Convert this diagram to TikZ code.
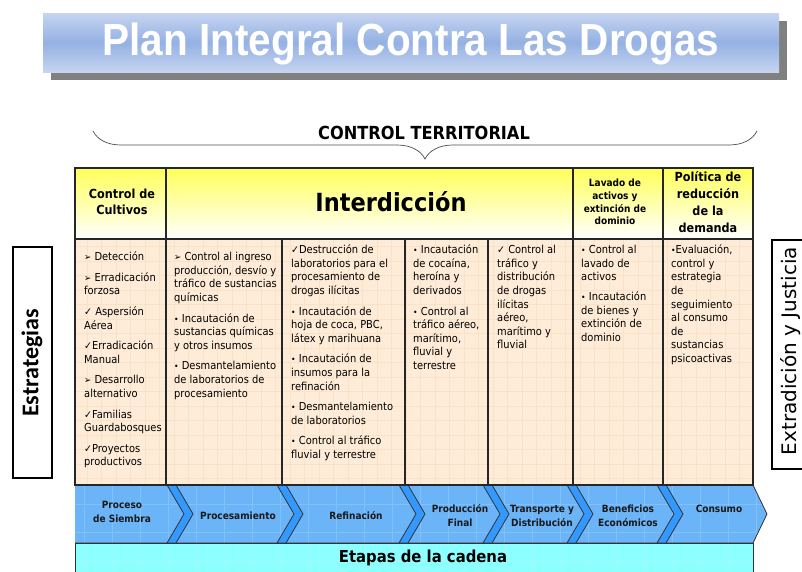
\documentclass[tikz,border=0pt]{standalone}
\usepackage{fontspec}
\IfFontExistsTF{DejaVu Sans Condensed Bold}
  {\setmainfont{DejaVu Sans Condensed}[BoldFont={DejaVu Sans Condensed Bold}]}
  {\setmainfont{DejaVu Sans}[FakeStretch=0.9]}
\newfontfamily\titlefont{Liberation Sans}[FakeStretch=0.9]
\newfontfamily\sidefont{Carlito}
\newfontfamily\widefont{DejaVu Sans}
\usetikzlibrary{decorations.pathreplacing}

\definecolor{titlelight}{RGB}{198,212,240}
\definecolor{titlemid}{RGB}{148,177,227}
\definecolor{headyellow}{RGB}{255,255,90}
\definecolor{bodypeach}{RGB}{254,236,216}
\definecolor{peachgrid}{RGB}{250,226,200}
\definecolor{stageblue}{RGB}{108,180,248}
\definecolor{stripeblue}{RGB}{51,153,255}
\definecolor{stagegrid}{RGB}{128,192,252}
\definecolor{cyanband}{RGB}{140,255,255}
\definecolor{cyangrid}{RGB}{165,245,252}

\tikzstyle{tableline} = [line width=1.1pt, black!85]
\tikzstyle{bodytext} = [anchor=north west, inner sep=0pt, align=left, text=black,
  font=\fontsize{11}{13.6}\selectfont]
\tikzstyle{headtext} = [inner sep=0pt, align=center, font=\bfseries]
\tikzstyle{stagetext} = [inner sep=0pt, align=center, text=black!90,
  font=\bfseries\fontsize{10}{14}\selectfont]
\tikzset{stripe/.style={fill=stripeblue, draw=black!80, line width=0.8pt, line join=round}}

\newcommand{\topstrut}{\rule{0pt}{10pt}}
\newcommand{\gap}{\\[7pt]}
\newcommand{\arr}{{\fontsize{9.5}{9.5}\selectfont ➢}}
\newcommand{\chk}{{\fontsize{10.5}{10.5}\selectfont ✓}}
\newcommand{\bul}{{\fontsize{8.5}{8.5}\selectfont •}}

\begin{document}
\begin{tikzpicture}[x=1pt, y=-1pt]
  \useasboundingbox (0,0) rectangle (802,571);
  % Title banner
  \fill[black!50] (51,21) rectangle (787,80);
  \shade[top color=titlelight, bottom color=titlelight, middle color=titlemid] (43,13) rectangle (779,72);
  \node[text=white, font=\titlefont\bfseries\fontsize{45}{45}\selectfont] (title) at (411,44) {Plan Integral Contra Las Drogas};

  % Brace
  \draw[black!70, line width=0.7pt, decorate, decoration={brace, amplitude=28pt, mirror}] (93,131) -- (757,131);
  \node[headtext, font=\bfseries\fontsize{18}{18}\selectfont] (control) at (424,133) {CONTROL TERRITORIAL};

  % Header and body fills
  \shade[top color=headyellow, bottom color=white] (75,168) rectangle (753,239);
  \fill[bodypeach] (75,239) rectangle (753,485);
  \draw[step=14.5pt, peachgrid, line width=0.4pt] (75,239) grid (753,485);

  % Chain of stages
  \fill[stageblue] (75,485) -- (753,485) -- (767,514) -- (753,543) -- (75,543) -- cycle;
  \begin{scope}
    \clip (75,485) -- (753,485) -- (767,514) -- (753,543) -- (75,543) -- cycle;
    \draw[step=28pt, stagegrid, line width=0.5pt] (75,485) grid (767,543);
  \end{scope}
  \draw[black!80, line width=0.8pt] (75,485) -- (753,485) -- (767,514) -- (753,543) -- (75,543);
  \foreach \x in {167,277,399,483,567,657} {
    \draw[stripe] (\x,485) -- (\x+17,514) -- (\x,543) -- (\x+9,543) -- (\x+26,514) -- (\x+9,485) -- cycle;
  }
  \fill[cyanband] (75,543) rectangle (753,575);
  \draw[step=28pt, cyangrid, line width=0.5pt] (75,543) grid (753,575);
  \draw[black!80, line width=0.8pt] (75,575) -- (75,543) -- (753,543) -- (753,575);

  % Table lines
  \draw[tableline] (75,168) rectangle (753,485);
  \draw[tableline] (75,239) -- (753,239);
  \foreach \x in {166,573,663} \draw[tableline] (\x,168) -- (\x,485);
  \foreach \x in {282,405,488} \draw[tableline] (\x,239) -- (\x,485);

  % Headers
  \node[headtext, font=\bfseries\fontsize{12.5}{16}\selectfont] (cultivos) at (122,202) {Control de\\Cultivos};
  \node[headtext, font=\bfseries\fontsize{25}{25}\selectfont] (interdiccion) at (391,202) {Interdicción};
  \node[headtext, font=\bfseries\fontsize{10}{12.7}\selectfont] (lavado) at (615,202) {Lavado de\\activos y\\extinción de\\dominio};
  \node[headtext, font=\bfseries\fontsize{12.5}{17}\selectfont] (politica) at (708,202) {Política de\\reducción\\de la\\demanda};

  % Strategies
  \node[bodytext] (siembra) at (84,250.5) {\topstrut\arr\ Detección\gap
    \arr\ Erradicación\\forzosa\gap
    \chk\ Aspersión\\Aérea\gap
    \chk Erradicación\\Manual\gap
    \arr\ Desarrollo\\alternativo\gap
    \chk Familias\\Guardabosques\gap
    \chk Proyectos\\productivos};
  \node[bodytext] (insumos) at (174,250.5) {\topstrut\arr\ Control al ingreso\\producción, desvío y\\tráfico de sustancias\\químicas\gap
    \bul\ Incautación de\\sustancias químicas\\y otros insumos\gap
    \bul\ Desmantelamiento\\de laboratorios de\\procesamiento};
  \node[bodytext] (laboratorios) at (291,243.5) {\topstrut\chk Destrucción de\\laboratorios para el\\procesamiento de\\drogas ilícitas\gap
    \bul\ Incautación de\\hoja de coca, PBC,\\látex y marihuana\gap
    \bul\ Incautación de\\insumos para la\\refinación\gap
    \bul\ Desmantelamiento\\de laboratorios\gap
    \bul\ Control al tráfico\\fluvial y terrestre};
  \node[bodytext] (cocaina) at (413,243.5) {\topstrut\bul\ Incautación\\de cocaína,\\heroína y\\derivados\gap
    \bul\ Control al\\tráfico aéreo,\\marítimo,\\fluvial y\\terrestre};
  \node[bodytext] (trafico) at (497,243.5) {\topstrut\chk\ Control al\\tráfico y\\distribución\\de drogas\\ilícitas\\aéreo,\\marítimo y\\fluvial};
  \node[bodytext] (activos) at (581,243.5) {\topstrut\bul\ Control al\\lavado de\\activos\\[6pt]
    \bul\ Incautación\\de bienes y\\extinción de\\dominio};
  \node[bodytext] (consumo) at (671,243.5) {\topstrut\bul Evaluación,\\control y\\estrategia\\de\\seguimiento\\al consumo\\de\\sustancias\\psicoactivas};

  % Stages of the chain
  \node[stagetext] (proceso) at (122,512) {Proceso\\de Siembra};
  \node[stagetext] (procesamiento) at (238,516) {Procesamiento};
  \node[stagetext] (refinacion) at (356,516) {Refinación};
  \node[stagetext] (produccion) at (460,516) {Producción\\Final};
  \node[stagetext] (transporte) at (542,516) {Transporte y\\Distribución};
  \node[stagetext] (beneficios) at (628,516) {Beneficios\\Económicos};
  \node[stagetext] (consumoetapa) at (719,509) {Consumo};
  \node[headtext, font=\bfseries\fontsize{16.5}{16.5}\selectfont] (etapas) at (423,558) {Etapas de la cadena};

  % Side boxes
  \draw[line width=1.1pt] (13,247) rectangle (52,478);
  \node[rotate=90, inner sep=0pt, font=\sidefont\bfseries\fontsize{24}{24}\selectfont] (estrategias) at (32,363) {Estrategias};
  \draw[line width=1.1pt] (772,240) rectangle (812,469);
  \node[rotate=90, inner sep=0pt, font=\widefont\fontsize{20}{20}\selectfont] (extradicion) at (791,351) {Extradición y Justicia};
\end{tikzpicture}
\end{document}
